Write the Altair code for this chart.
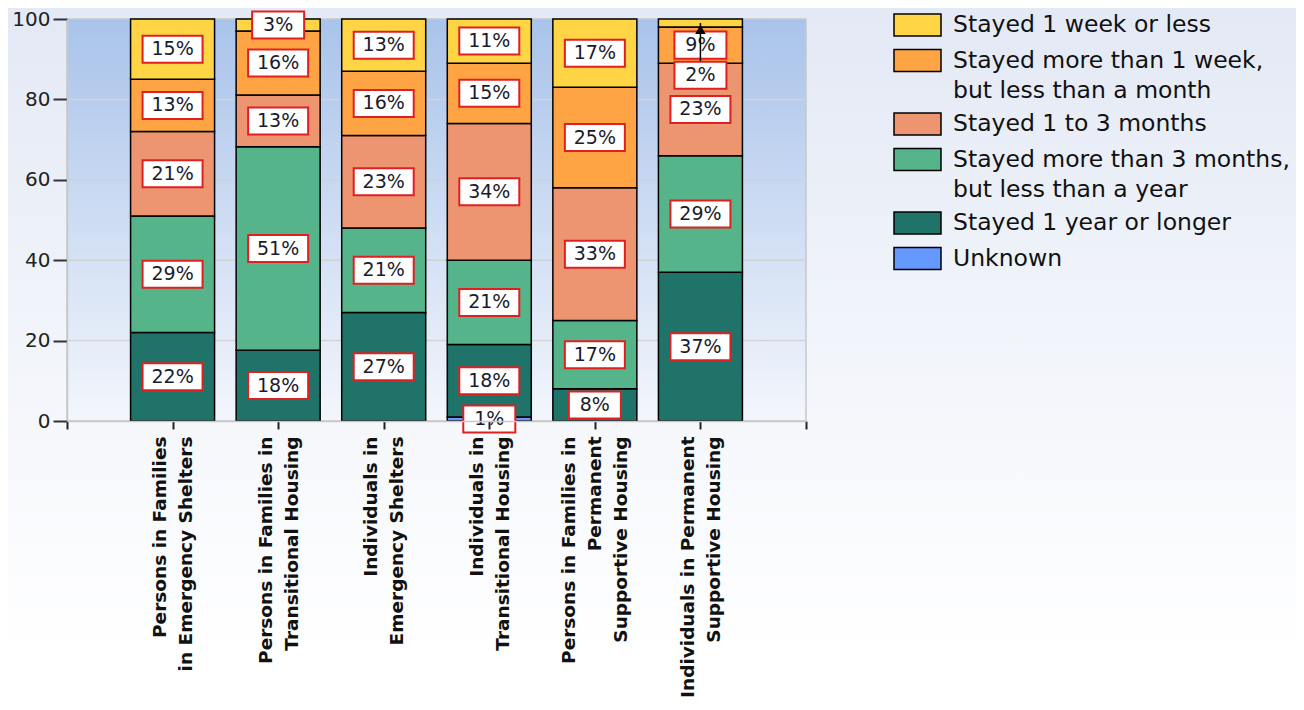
import json
import altair as alt
import pandas as pd

# ---------------- data ----------------
categories = [
    "Persons in Families|in Emergency Shelters",
    "Persons in Families in|Transitional Housing",
    "Individuals in|Emergency Shelters",
    "Individuals in|Transitional Housing",
    "Persons in Families in|Permanent|Supportive Housing",
    "Individuals in Permanent|Supportive Housing",
]
# stack order: bottom -> top
series = [
    "Unknown",
    "Stayed 1 year or longer",
    "Stayed more than 3 months,|but less than a year",
    "Stayed 1 to 3 months",
    "Stayed more than 1 week,|but less than a month",
    "Stayed 1 week or less",
]
unknown = [0, 0, 0, 1, 0, 0]
year_or_longer = [22, 17.6, 27, 18, 8, 37]
three_months_to_year = [29, 50.6, 21, 21, 17, 29]
one_to_three_months = [21, 12.9, 23, 34, 33, 23]
week_to_month = [13, 15.9, 16, 15, 25, 9]
week_or_less = [15, 3.0, 13, 11, 17, 2]
series_colors = ["#6699FF", "#1F7368", "#55B489", "#EC9570", "#FFA445", "#FFD445"]
y_ticks = [0, 20, 40, 60, 80, 100]

values = [unknown, year_or_longer, three_months_to_year,
          one_to_three_months, week_to_month, week_or_less]

# ---------------- tables ----------------
rows = []
for i, cat in enumerate(categories):
    base = 0.0
    for j, s in enumerate(series):
        v = values[j][i]
        rows.append({"pos": i + 1, "series": s, "order": j, "v": v,
                     "y0": base, "y1": base + v, "mid": base + v / 2})
        base += v
df = pd.DataFrame(rows)
bars = df[df.v > 0].copy()

BOX_UNITS = 7.0
labels = []
leaders = []
for pos, g in bars.groupby("pos"):
    g = g.sort_values("mid", ascending=False).reset_index(drop=True)
    ly = list(g["mid"])
    for k in range(len(g) - 1):
        if ly[k] - ly[k + 1] < BOX_UNITS and g.loc[k, "v"] < g.loc[k + 1, "v"]:
            ly[k] = ly[k + 1] - BOX_UNITS - 0.5
            leaders.append({"pos": pos, "ya": ly[k] + BOX_UNITS / 2,
                            "yb": g.loc[k, "mid"], "yt": g.loc[k, "mid"] - 1.6})
    for k in range(len(g)):
        txt = f"{g.loc[k, 'v']:.0f}%"
        labels.append({"pos": pos, "ly": ly[k], "label": txt, "nd": len(txt) - 1})
lab = pd.DataFrame(labels)
lead = pd.DataFrame(leaders)
grid = pd.DataFrame({"t": y_ticks[1:-1]})

# ---------------- encodings ----------------
LINE_H = 26
cats_js = json.dumps(categories)
valid = "(datum.value >= 1 && datum.value <= 6)"
label_expr = f"{valid} ? split({cats_js}[datum.value - 1], '|') : ''"
offset_expr = (f"{valid} ? -(length(split({cats_js}[datum.value - 1], '|')) - 1) * "
               f"{LINE_H / 2} : 0")
x_axis = alt.Axis(values=[0, 1, 2, 3, 4, 5, 6, 7], labelExpr=label_expr, labelAngle=-90,
                  labelAlign="right", labelBaseline="middle", labelFont="DejaVu Sans",
                  labelFontWeight="bold", labelFontSize=18.5, labelLineHeight=LINE_H,
                  labelOffset={"expr": offset_expr},
                  labelColor="#111111", labelPadding=7, labelLimit=0, tickColor="#222222",
                  tickSize=8, tickWidth=2, domainColor="#C8C8C8", domainWidth=1.5, grid=False,
                  title=None, labelOverlap=False, labelFlush=False, zindex=1)
y_axis = alt.Axis(values=y_ticks, labelFont="DejaVu Sans", labelFontSize=20,
                  labelColor="#222222", labelPadding=3, tickColor="#333333", tickSize=14,
                  tickWidth=2, domainColor="#C8C8C8", domainWidth=1.5, grid=False,
                  title=None, zindex=1)
xs = alt.Scale(domain=[0, 7], nice=False, zero=False, padding=0)
ys = alt.Scale(domain=[0, 100], nice=False, padding=0)


def X():
    return alt.X("pos:Q", scale=xs, axis=x_axis)


def Y(f):
    return alt.Y(f, scale=ys, axis=y_axis)


one = pd.DataFrame({"a": [0]})

page_bg = alt.Chart(one).mark_rect(
    color=alt.Gradient(gradient="linear", x1=0, x2=0, y1=0, y2=1,
                       stops=[alt.GradientStop(color="#E3E9F5", offset=0),
                              alt.GradientStop(color="#FFFFFF", offset=0.92)])
).encode(x=alt.value(-59), x2=alt.value(1229), y=alt.value(-11), y2=alt.value(690))

plot_bg = alt.Chart(one).mark_rect(
    color=alt.Gradient(gradient="linear", x1=0, x2=0, y1=0, y2=1,
                       stops=[alt.GradientStop(color="#A9C3EA", offset=0),
                              alt.GradientStop(color="#F3F6FC", offset=1)]),
    stroke="#C8C8C8", strokeWidth=1.5,
).encode(x=alt.datum(0, scale=xs, axis=x_axis), x2=alt.datum(7),
         y=alt.datum(0, scale=ys, axis=y_axis), y2=alt.datum(100))

grid_layer = alt.Chart(grid).mark_rule(color="#D2D2D2", strokeWidth=1.5).encode(
    x=alt.datum(0, scale=xs, axis=x_axis), x2=alt.datum(7), y=Y("t:Q"))

legend = alt.Legend(
    orient="none", legendX=838.5, legendY=-6, direction="vertical", title=None,
    labelFont="DejaVu Sans", labelFontSize=23.5, labelColor="#111111",
    labelExpr="split(datum.label, '|')", labelLimit=0, labelOffset=23.5,
    symbolType="M-2.136,-1L2.136,-1L2.136,1L-2.136,1Z", symbolSize=484,
    symbolStrokeColor="black", symbolStrokeWidth=1.5, rowPadding=7.5,
)

bar_layer = alt.Chart(bars).mark_bar(width=84, stroke="black", strokeWidth=1.5).encode(
    x=X(), y=Y("y0:Q"), y2="y1:Q",
    color=alt.Color("series:N", scale=alt.Scale(domain=series[::-1], range=series_colors[::-1]),
                    legend=legend),
    order=alt.Order("order:Q"),
)

box2 = alt.Chart(lab).transform_filter("datum.nd == 2").mark_point(
    shape="M-1,-0.45L1,-0.45L1,0.45L-1,0.45Z", size=3600, filled=True, fill="white",
    stroke="#E02020", strokeWidth=2, opacity=1
).encode(x=X(), y=Y("ly:Q"))

box1 = alt.Chart(lab).transform_filter("datum.nd == 1").mark_point(
    shape="M-1,-0.52L1,-0.52L1,0.52L-1,0.52Z", size=2704, filled=True, fill="white",
    stroke="#E02020", strokeWidth=2, opacity=1
).encode(x=X(), y=Y("ly:Q"))

text_layer = alt.Chart(lab).mark_text(font="DejaVu Sans", fontSize=19, color="#1A1A2E",
                                      baseline="middle", align="center").encode(
    x=X(), y=Y("ly:Q"), text="label:N")

layers = [page_bg, plot_bg, grid_layer, bar_layer, box2, box1, text_layer]
if len(lead):
    rule = alt.Chart(lead).mark_rule(color="black", strokeWidth=1.5).encode(
        x=X(), y=Y("ya:Q"), y2="yb:Q")
    tip = alt.Chart(lead).mark_point(shape="triangle-up", size=110, filled=True,
                                     color="black", opacity=1).encode(x=X(), y=Y("yt:Q"))
    layers += [rule, tip]

chart = alt.layer(*layers).properties(
    width=739, height=402,
    autosize=alt.AutoSizeParams(type="none"),
    padding={"left": 59, "top": 11, "right": 490, "bottom": 281},
    background="white",
).configure(
    view=alt.ViewConfig(stroke=None),
    style={"guide-label": alt.MarkConfig(lineHeight=30)},
)

chart.save("out.html", embed_options={"renderer": "svg", "actions": False})
